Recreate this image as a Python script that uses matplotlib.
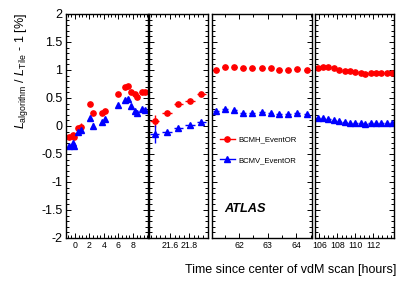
import numpy as np
import matplotlib
matplotlib.use("Agg")
import matplotlib.pyplot as plt
from matplotlib.lines import Line2D
from matplotlib.ticker import MultipleLocator

plt.rcParams['font.family'] = ['Liberation Sans', 'DejaVu Sans']
plt.rcParams['mathtext.fontset'] = 'custom'
plt.rcParams['mathtext.rm'] = 'Liberation Sans'
plt.rcParams['mathtext.it'] = 'Liberation Sans:italic'

# --- data ---
# panel 1: first hours after the scan
t1 = [-0.87, -0.33, -0.07, 0.46, 0.78, 2.07, 2.47, 3.77, 4.18, 5.98, 6.9, 7.36, 7.72, 8.28, 8.6, 9.2, 9.66]
bcmh1 = [-0.19, -0.16, -0.2, -0.04, -0.01, 0.39, 0.23, 0.24, 0.26, 0.57, 0.69, 0.71, 0.6, 0.57, 0.51, 0.6, 0.61]
bcmv1 = [-0.36, -0.31, -0.36, -0.1, -0.08, 0.14, 0.0, 0.08, 0.12, 0.38, 0.46, 0.49, 0.36, 0.27, 0.23, 0.3, 0.29]
errh1 = [0.02, 0.02, 0.02, 0.03, 0.06, 0.02, 0.02, 0.02, 0.02, 0.02, 0.02, 0.02, 0.02, 0.02, 0.02, 0.02, 0.02]
errv1 = [0.02, 0.02, 0.02, 0.03, 0.05, 0.02, 0.05, 0.02, 0.02, 0.02, 0.02, 0.02, 0.02, 0.02, 0.02, 0.02, 0.02]

# panel 2
t2 = [21.44, 21.57, 21.69, 21.81, 21.93]
bcmh2 = [0.09, 0.24, 0.39, 0.45, 0.57]
bcmv2 = [-0.15, -0.11, -0.04, 0.01, 0.08]
errh2 = [0.11, 0.02, 0.02, 0.02, 0.02]
errv2 = [0.16, 0.02, 0.02, 0.02, 0.02]

# panel 3
t3 = [61.2, 61.51, 61.84, 62.15, 62.46, 62.79, 63.1, 63.4, 63.72, 64.03, 64.36]
bcmh3 = [1.0, 1.06, 1.06, 1.04, 1.04, 1.04, 1.03, 1.0, 1.0, 1.01, 1.0]
bcmv3 = [0.27, 0.3, 0.29, 0.24, 0.24, 0.25, 0.24, 0.21, 0.21, 0.23, 0.21]

# panel 4
t4 = [105.8, 106.4, 107.0, 107.6, 108.2, 108.8, 109.4, 110.0, 110.6, 111.1, 111.7, 112.3, 112.9, 113.5, 114.1]
bcmh4 = [1.04, 1.06, 1.05, 1.03, 1.0, 0.99, 0.98, 0.96, 0.95, 0.93, 0.95, 0.95, 0.95, 0.95, 0.94]
bcmv4 = [0.15, 0.14, 0.12, 0.11, 0.09, 0.08, 0.06, 0.05, 0.05, 0.04, 0.05, 0.05, 0.05, 0.05, 0.05]

panels = [
    dict(t=t1, h=bcmh1, v=bcmv1, eh=errh1, ev=errv1, xerr=0.05, xlim=(-1.24, 10.07),
         pos=(66, 148), major=2, minor=0.5, labels=True),
    dict(t=t2, h=bcmh2, v=bcmv2, eh=errh2, ev=errv2, xerr=0.05, xlim=(21.38, 21.995),
         pos=(149, 207.5), major=0.2, minor=0.05, labels=False),
    dict(t=t3, h=bcmh3, v=bcmv3, eh=None, ev=None, xerr=0.1, xlim=(61.04, 64.53),
         pos=(211.5, 311.5), major=1, minor=0.5, labels=False),
    dict(t=t4, h=bcmh4, v=bcmv4, eh=None, ev=None, xerr=0.25, xlim=(105.5, 114.3),
         pos=(315, 394), major=2, minor=0.5, labels=False),
]

W, H = 415, 284
fig = plt.figure(figsize=(W / 100, H / 100), dpi=100)
top, bottom = 14, 238

red = '#ff0000'
blue = '#0000ff'
msize = 3.8

axes = []
for p in panels:
    x0, x1 = p['pos']
    ax = fig.add_axes([x0 / W, 1 - bottom / H, (x1 - x0) / W, (bottom - top) / H])
    ax.errorbar(p['t'], p['h'], yerr=p['eh'], xerr=p['xerr'], fmt='o', color=red,
                ms=msize, elinewidth=1.0, capsize=0)
    ax.errorbar(p['t'], p['v'], yerr=p['ev'], xerr=p['xerr'], fmt='^', color=blue,
                ms=msize, elinewidth=1.0, capsize=0)
    ax.set_xlim(*p['xlim'])
    ax.set_ylim(-2, 2)
    ax.xaxis.set_major_locator(MultipleLocator(p['major']))
    ax.xaxis.set_minor_locator(MultipleLocator(p['minor']))
    ax.yaxis.set_major_locator(MultipleLocator(0.5))
    ax.yaxis.set_minor_locator(MultipleLocator(0.1))
    ax.tick_params(which='both', direction='in', top=True, right=True, width=0.7)
    ax.tick_params(which='major', length=3.8)
    ax.tick_params(which='minor', length=2.0)
    ax.tick_params(axis='x', labelsize=6.3, pad=2)
    ax.tick_params(axis='y', labelsize=9, pad=2.5, labelleft=p['labels'])
    for s in ax.spines.values():
        s.set_linewidth(1.0)
    axes.append(ax)

# only show chosen tick labels
axes[0].set_xticks([0, 2, 4, 6, 8])
axes[1].set_xticks([21.6, 21.8])
axes[1].set_xticklabels(['21.6', '21.8'])
axes[2].set_xticks([62, 63, 64])
axes[3].set_xticks([106, 108, 110, 112])
axes[0].set_yticks([-2, -1.5, -1, -0.5, 0, 0.5, 1, 1.5, 2])
axes[0].set_yticklabels(['-2', '-1.5', '-1', '-0.5', '0', '0.5', '1', '1.5', '2'])

handles = [
    Line2D([], [], color=red, marker='o', ms=msize, lw=1.0),
    Line2D([], [], color=blue, marker='^', ms=msize, lw=1.0),
]
axes[2].legend(handles, ['BCMH_EventOR', 'BCMV_EventOR'], loc='upper left',
               bbox_to_anchor=(0.085, 0.455), frameon=False, fontsize=5.6,
               handlelength=1.9, handletextpad=0.4, labelspacing=1.7,
               borderpad=0, borderaxespad=0)
axes[2].text(0.125, 0.13, 'ATLAS', transform=axes[2].transAxes, fontsize=9.2,
             fontweight='bold', fontstyle='italic', va='center', ha='left')

fig.text(22 / W, 1 - 13 / H, r'$L_{\rm algorithm}$ / $L_{\rm Tile}$ - 1 [%]',
         rotation=90, ha='center', va='top', fontsize=9)
fig.text(396 / W, 1 - 270 / H, 'Time since center of vdM scan [hours]',
         ha='right', va='center', fontsize=9)

fig.savefig('out.png', dpi=100)
